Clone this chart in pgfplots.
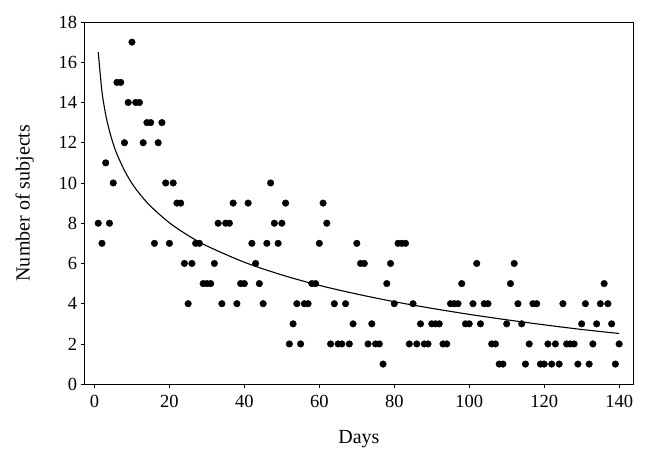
\documentclass[border=0pt]{standalone}
\usepackage{fontspec}
\setmainfont{Liberation Serif}
\usepackage{pgfplots}
\pgfplotsset{compat=1.18}
\begin{document}
\begin{tikzpicture}
\begin{axis}[
scale only axis,
width=548pt, height=362pt,
xmin=-2.6, xmax=143.7,
ymin=0, ymax=18,
xtick={0,20,...,140},
ytick={0,2,...,18},
tick align=outside,
tick pos=left,
major tick length=4pt,
axis line style={line width=0.8pt},
every tick/.style={black, line width=0.8pt},
/pgf/number format/assume math mode=true,
ticklabel style={font=\fontsize{18.5}{22}\selectfont},
xticklabel style={yshift=-3pt},
label style={font=\fontsize{20}{24}\selectfont},
xlabel={Days},
ylabel={Number of subjects},
xlabel style={yshift=-16pt},
ylabel style={yshift=18pt},
]
\addplot [only marks, mark=*, mark size=3.3pt, black]
table {%
1 8
2 7
3 11
4 8
5 10
6 15
7 15
8 12
9 14
10 17
11 14
12 14
13 12
14 13
15 13
16 7
17 12
18 13
19 10
20 7
21 10
22 9
23 9
24 6
25 4
26 6
27 7
28 7
29 5
30 5
31 5
32 6
33 8
34 4
35 8
36 8
37 9
38 4
39 5
40 5
41 9
42 7
43 6
44 5
45 4
46 7
47 10
48 8
49 7
50 8
51 9
52 2
53 3
54 4
55 2
56 4
57 4
58 5
59 5
60 7
61 9
62 8
63 2
64 4
65 2
66 2
67 4
68 2
69 3
70 7
71 6
72 6
73 2
74 3
75 2
76 2
77 1
78 5
79 6
80 4
81 7
82 7
83 7
84 2
85 4
86 2
87 3
88 2
89 2
90 3
91 3
92 3
93 2
94 2
95 4
96 4
97 4
98 5
99 3
100 3
101 4
102 6
103 3
104 4
105 4
106 2
107 2
108 1
109 1
110 3
111 5
112 6
113 4
114 3
115 1
116 2
117 4
118 4
119 1
120 1
121 2
122 1
123 2
124 1
125 4
126 2
127 2
128 2
129 1
130 3
131 4
132 1
133 2
134 3
135 4
136 5
137 4
138 3
139 1
140 2
};
% fitted trend line
\addplot [black, line width=1.1pt, smooth]
table {%
1 16.50
2 14.54
3 13.39
4 12.58
5 11.95
6 11.43
8 10.62
10 9.98
12 9.47
15 8.84
20 8.02
25 7.39
30 6.87
40 6.06
50 5.43
60 4.91
70 4.48
80 4.10
90 3.77
100 3.47
110 3.20
120 2.95
130 2.72
140 2.52
};
\end{axis}
\path ([shift={(-84.7pt,-80pt)}]current axis.south west) rectangle ([shift={(14pt,22pt)}]current axis.north east);
\end{tikzpicture}
\end{document}
